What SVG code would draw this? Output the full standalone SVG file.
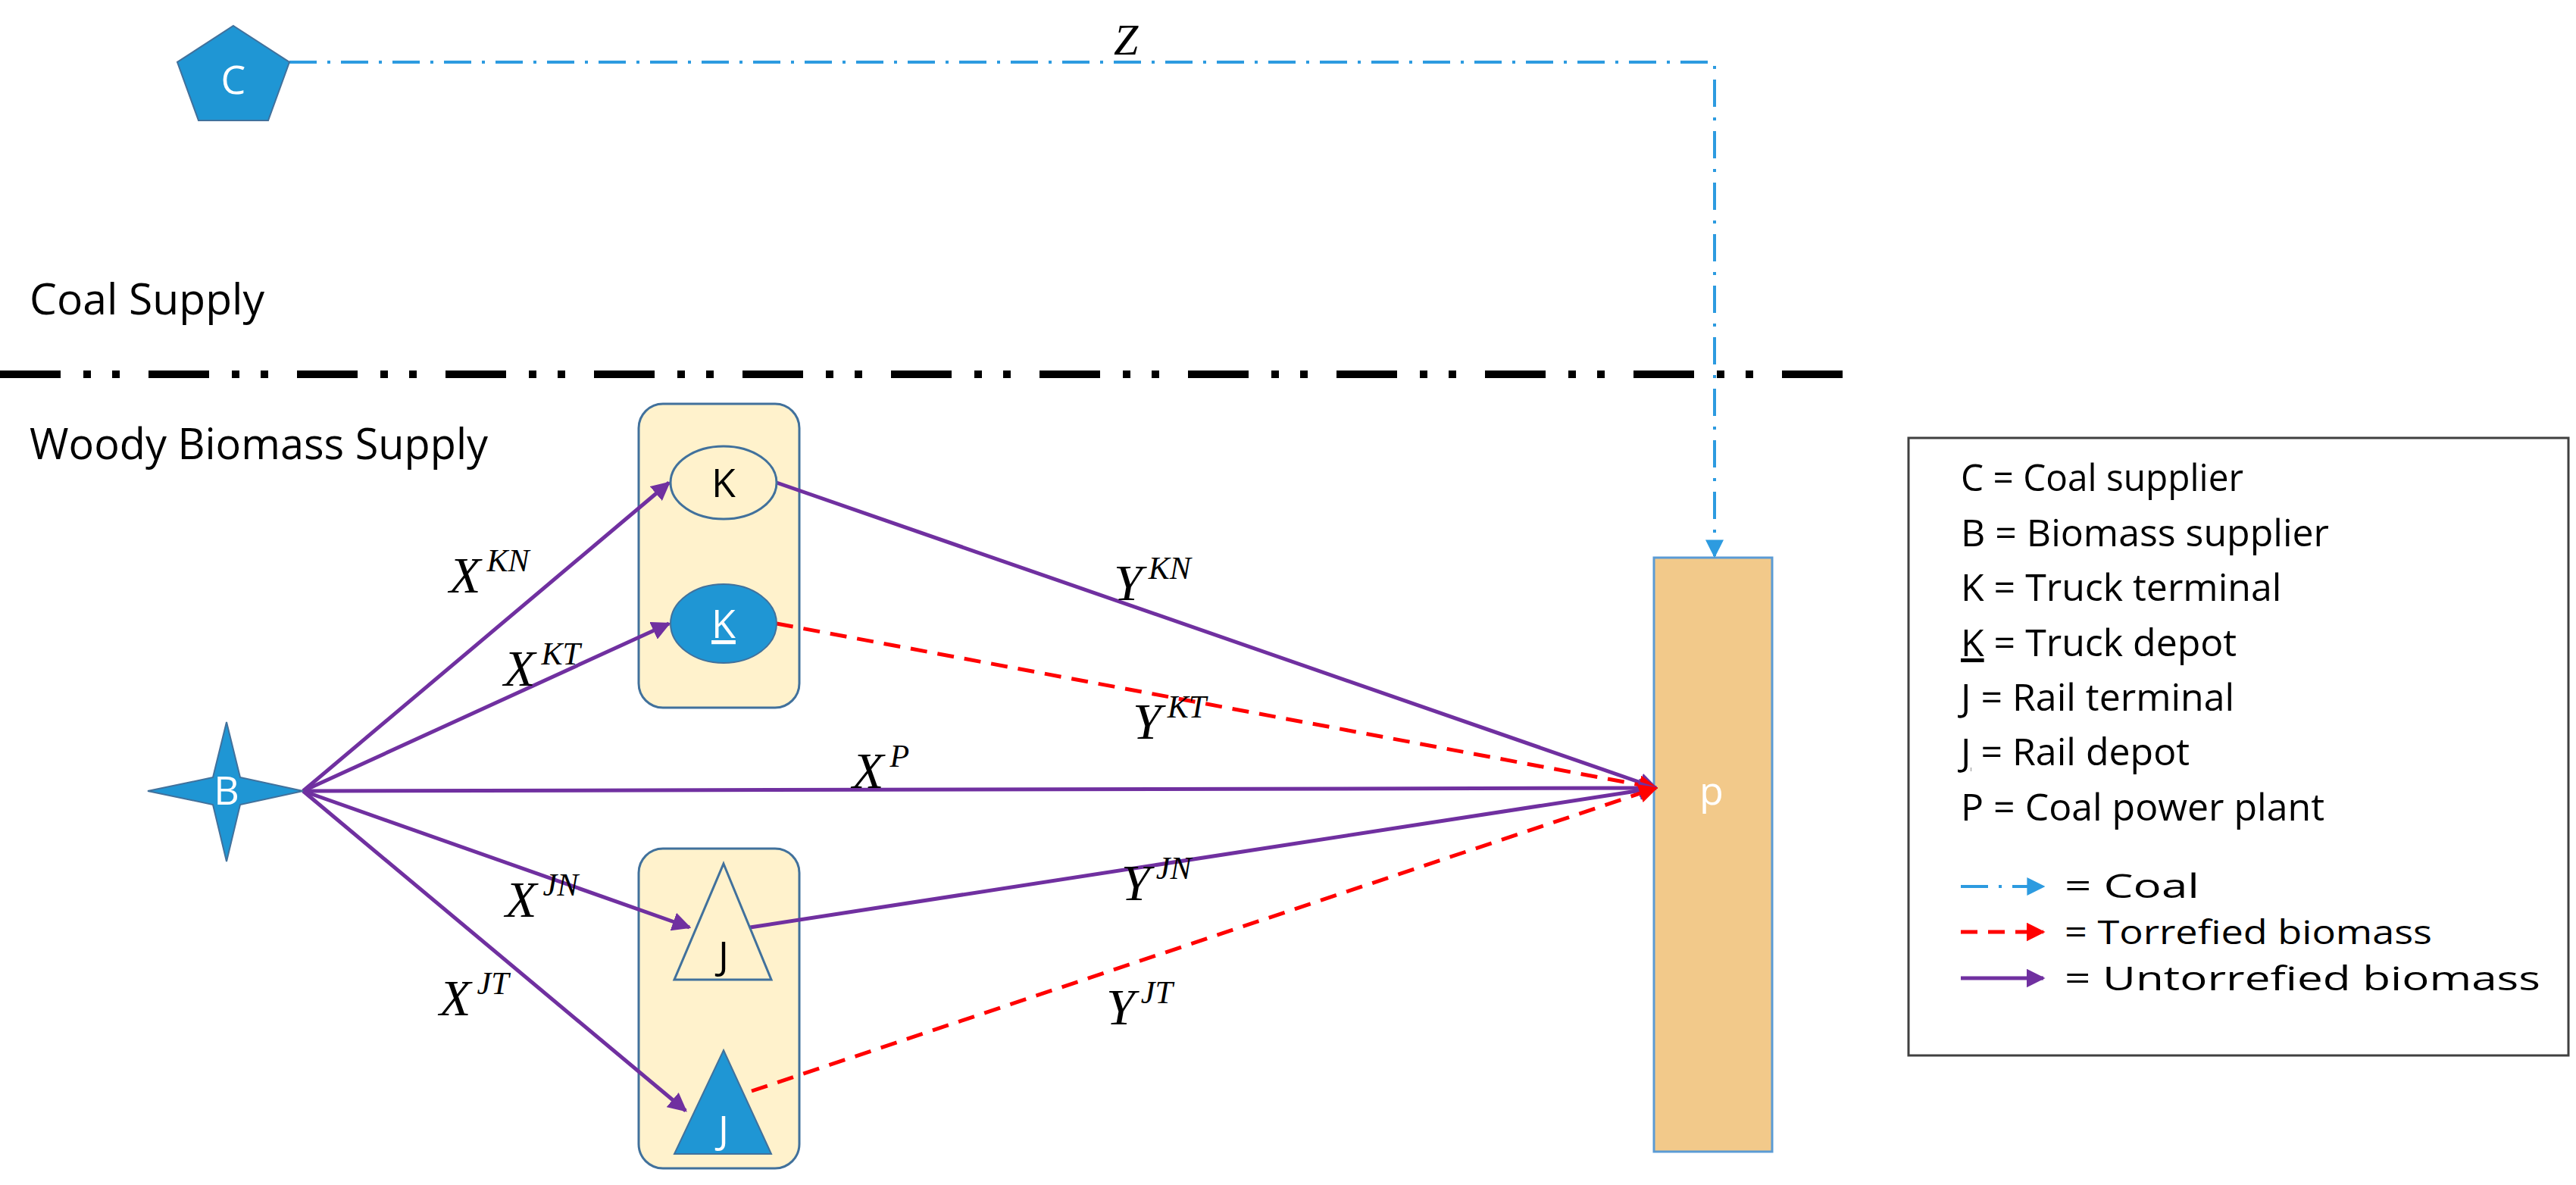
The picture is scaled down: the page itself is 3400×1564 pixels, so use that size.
<svg xmlns="http://www.w3.org/2000/svg" width="3400" height="1564" viewBox="0 0 3400 1564">
<style>
.t{font-family:"Open Sans","Liberation Sans",sans-serif;font-size:50px;fill:#000}
.lg{font-size:44px}
.sec{font-size:56px}
.w{font-family:"Open Sans","Liberation Sans",sans-serif;font-size:52px;fill:#fff;text-anchor:middle}
.b{font-family:"Open Sans","Liberation Sans",sans-serif;font-size:52px;fill:#000;text-anchor:middle}
.m{font-family:"Liberation Serif",serif;font-style:italic;font-size:68px;fill:#000}
.z{font-size:58px}
.s{font-size:42px}
.pu{stroke:#7030a0;stroke-width:5;fill:none}
.rd{stroke:#ff0000;stroke-width:5;fill:none;stroke-dasharray:22 14}
.cl{stroke:#2d9be0;stroke-width:4;fill:none;stroke-dasharray:36 14 4 14}
.box{fill:#fff2cc;stroke:#41719c;stroke-width:3}
.nb{fill:#1f96d4;stroke:#41719c;stroke-width:2}
</style>
<defs>
<marker id="ap" viewBox="0 0 10 10" refX="9" refY="5" markerWidth="5" markerHeight="5" orient="auto" markerUnits="strokeWidth"><path d="M0,0L10,5L0,10z" fill="#7030a0"/></marker>
<marker id="ar" viewBox="0 0 10 10" refX="9" refY="5" markerWidth="5" markerHeight="5" orient="auto" markerUnits="strokeWidth"><path d="M0,0L10,5L0,10z" fill="#ff0000"/></marker>
<marker id="ac" viewBox="0 0 10 10" refX="9" refY="5" markerWidth="6" markerHeight="6" orient="auto" markerUnits="strokeWidth"><path d="M0,0L10,5L0,10z" fill="#2d9be0"/></marker>
</defs>
<rect width="3400" height="1564" fill="#fff"/>
<text class="t sec" x="39" y="415" textLength="310" lengthAdjust="spacingAndGlyphs">Coal Supply</text>
<text class="t sec" x="39" y="606" textLength="605" lengthAdjust="spacingAndGlyphs">Woody Biomass Supply</text>
<line x1="0" y1="494" x2="2448" y2="494" stroke="#000" stroke-width="10" stroke-dasharray="80 30 10 28 10 38"/>

<g id="truckBox"><rect class="box" x="843" y="533" width="212" height="401" rx="32"/></g>
<g id="railBox"><rect class="box" x="843" y="1120" width="212" height="422" rx="32"/></g>
<g id="P"><rect x="2183" y="736" width="156" height="784" fill="#f2c98a" stroke="#5b9bd5" stroke-width="3"/><text class="w" x="2259" y="1062">p</text></g>

<g id="connectors">
<path class="cl" d="M382,82 H2263 V734" marker-end="url(#ac)"/>
<line class="pu" x1="400" y1="1044" x2="883" y2="637" marker-end="url(#ap)"/>
<line class="pu" x1="400" y1="1044" x2="883" y2="823" marker-end="url(#ap)"/>
<line class="pu" x1="400" y1="1044" x2="2186" y2="1040" marker-end="url(#ap)"/>
<line class="pu" x1="400" y1="1044" x2="910" y2="1224" marker-end="url(#ap)"/>
<line class="pu" x1="400" y1="1044" x2="905" y2="1466" marker-end="url(#ap)"/>
<line class="pu" x1="1025" y1="637" x2="2186" y2="1040" marker-end="url(#ap)"/>
<line class="rd" x1="1025" y1="823" x2="2186" y2="1040" marker-end="url(#ar)"/>
<line class="pu" x1="990" y1="1224" x2="2186" y2="1040" marker-end="url(#ap)"/>
<line class="rd" x1="992" y1="1440" x2="2186" y2="1040" marker-end="url(#ar)"/>
<text class="m z" x="1470" y="72">Z</text>
<text class="m" x="593" y="782">X<tspan class="s" dx="8" dy="-28">KN</tspan></text>
<text class="m" x="665" y="905">X<tspan class="s" dx="8" dy="-28">KT</tspan></text>
<text class="m" x="1125" y="1040">X<tspan class="s" dx="8" dy="-28">P</tspan></text>
<text class="m" x="667" y="1210">X<tspan class="s" dx="8" dy="-28">JN</tspan></text>
<text class="m" x="580" y="1340">X<tspan class="s" dx="8" dy="-28">JT</tspan></text>
<text class="m" x="1470" y="792">Y<tspan class="s" dx="8" dy="-28">KN</tspan></text>
<text class="m" x="1495" y="975">Y<tspan class="s" dx="8" dy="-28">KT</tspan></text>
<text class="m" x="1480" y="1188">Y<tspan class="s" dx="8" dy="-28">JN</tspan></text>
<text class="m" x="1460" y="1352">Y<tspan class="s" dx="8" dy="-28">JT</tspan></text>
</g>

<g id="C"><polygon class="nb" points="308,34 382,82 354,159 262,159 234,82"/><text class="w" x="308" y="124">C</text></g>
<g id="B"><path class="nb" d="M195,1044 L281,1026 L299,953 L317,1026 L400,1044 L317,1062 L299,1137 L281,1062 Z"/><text class="w" x="299" y="1062">B</text></g>
<g id="K"><ellipse class="box" cx="955" cy="637" rx="70" ry="48"/><text class="b" x="955" y="656">K</text></g>
<g id="Kd"><ellipse class="nb" cx="955" cy="823" rx="70" ry="52"/><text class="w" x="955" y="842" text-decoration="underline">K</text></g>
<g id="J"><polygon class="box" points="955,1140 1018,1293 890,1293"/><text class="b" x="955" y="1280">J</text></g>
<g id="Jd"><polygon class="nb" points="955,1386 1018,1523 890,1523"/><text class="w" x="955" y="1510" text-decoration="underline">J</text></g>

<g id="legend">
<rect x="2519" y="578" width="871" height="815" fill="#fff" stroke="#404040" stroke-width="3"/>
<text class="t" x="2588" y="648" textLength="373" lengthAdjust="spacingAndGlyphs">C = Coal supplier</text>
<text class="t" x="2588" y="721">B = Biomass supplier</text>
<text class="t" x="2588" y="793">K = Truck terminal</text>
<text class="t" x="2588" y="866"><tspan text-decoration="underline">K</tspan> = Truck depot</text>
<text class="t" x="2588" y="938">J = Rail terminal</text>
<text class="t" x="2588" y="1010"><tspan text-decoration="underline">J</tspan> = Rail depot</text>
<text class="t" x="2588" y="1083">P = Coal power plant</text>
<line class="cl" x1="2588" y1="1170" x2="2697" y2="1170" marker-end="url(#ac)"/>
<line class="rd" x1="2588" y1="1230" x2="2697" y2="1230" stroke-dasharray="14 10" marker-end="url(#ar)"/>
<line class="pu" x1="2588" y1="1291" x2="2697" y2="1291" marker-end="url(#ap)"/>
<text class="t lg" x="2725" y="1185" textLength="178" lengthAdjust="spacingAndGlyphs">= Coal</text>
<text class="t lg" x="2725" y="1246" textLength="485" lengthAdjust="spacingAndGlyphs">= Torrefied biomass</text>
<text class="t lg" x="2725" y="1307" textLength="628" lengthAdjust="spacingAndGlyphs">= Untorrefied biomass</text>
</g>
</svg>
